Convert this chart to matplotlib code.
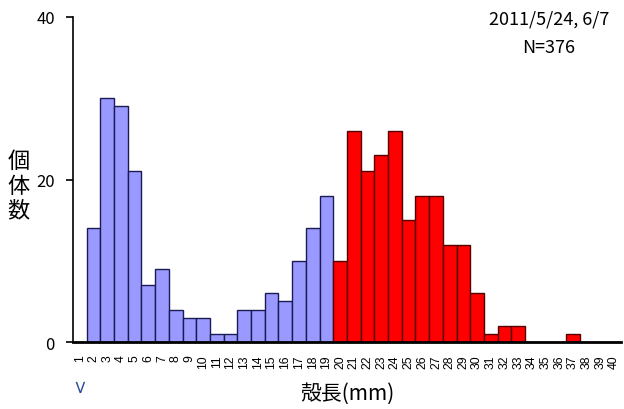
import matplotlib
matplotlib.use("Agg")
import matplotlib.pyplot as plt

plt.rcParams['font.family'] = ['Noto Sans CJK JP', 'DejaVu Sans']

# shell length classes (mm) and individual counts
size_classes = [str(i) for i in range(1, 41)]
counts = [0, 14, 30, 29, 21, 7, 9, 4, 3, 3,
          1, 1, 4, 4, 6, 5, 10, 14, 18, 10,
          26, 21, 23, 26, 15, 18, 18, 12, 12, 6,
          1, 2, 2, 0, 0, 0, 1, 0, 0, 0]
# classes from 20 mm upward are shown in red
split_class = 20
date_text = "2011/5/24, 6/7"
n_text = "N=376"

fig = plt.figure(figsize=(6.24, 4.10), dpi=100)
ax = fig.add_axes([0.117, 0.1634, 0.878, 0.7927])

xs = list(range(len(size_classes)))
colors = ['#9999ff' if int(c) < split_class else '#ff0000' for c in size_classes]
edges = ['#1a1a55' if int(c) < split_class else '#550000' for c in size_classes]
ax.bar(xs, counts, width=1.0, color=colors, edgecolor=edges, linewidth=1.0, zorder=2)

ax.set_xlim(-0.5, len(size_classes) - 0.5)
ax.set_ylim(0, 40)
ax.set_yticks([0, 20, 40])
ax.tick_params(axis='y', direction='out', length=5, width=1.2, labelsize=12, pad=8)
ax.set_xticks(xs)
ax.set_xticklabels(size_classes, rotation=90, fontsize=8.8, va='top', ha='center',
                   family='Liberation Sans')
ax.tick_params(axis='x', length=0, pad=9)

for s in ['top', 'right']:
    ax.spines[s].set_visible(False)
ax.spines['left'].set_linewidth(1.2)
ax.spines['bottom'].set_linewidth(2.0)

# "less than" marker under the first class
ax.text(0, -0.108, "<", rotation=90, color='#2a4a9a', fontsize=13,
        family='DejaVu Sans', transform=ax.get_xaxis_transform(),
        ha='center', va='top')

ax.set_xlabel("殻長(mm)", fontsize=15, labelpad=10)
fig.text(0.03, 0.546, "個\n体\n数", fontsize=16, ha='center', va='center',
         linespacing=1.12)

fig.text(0.88, 0.952, date_text, fontsize=13, ha='center', va='center')
fig.text(0.88, 0.883, n_text, fontsize=13, ha='center', va='center')

fig.savefig("out.png", dpi=100)
